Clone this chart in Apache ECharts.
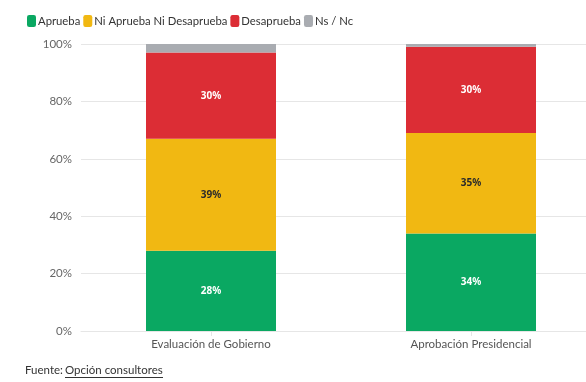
<!DOCTYPE html>
<html><head><meta charset="utf-8">
<script src="https://cdn.jsdelivr.net/npm/echarts@6/dist/echarts.min.js"></script>
<style>html,body{margin:0;padding:0;background:#fff}#c{width:586px;height:382px}</style>
</head><body><div id="c"></div>
<script>
const categories = ["Evaluación de Gobierno", "Aprobación Presidencial"];
const seriesNames = ["Aprueba", "Ni Aprueba Ni Desaprueba", "Desaprueba", "Ns / Nc"];
const aprueba = [28, 34];
const niAprueba = [39, 35];
const desaprueba = [30, 30];
const nsnc = [3, 1];
const yTicks = [0, 20, 40, 60, 80, 100];
const source = "Opción consultores";

const colors = ["#0aa862", "#f1b812", "#dc2d35", "#a9acb1"];
const labelColors = ["#ffffff", "#2b2b2b", "#ffffff", null];
const values = [aprueba, niAprueba, desaprueba, nsnc];
const FONT = "Lato";

const chart = echarts.init(document.getElementById('c'), null, {renderer: 'canvas'});
chart.setOption({
  animation: false,
  textStyle: {fontFamily: FONT},
  color: colors,
  legend: {
    left: 22, top: 10, itemWidth: 9, itemHeight: 12, itemGap: 3,
    icon: 'roundRect',
    textStyle: {fontFamily: FONT, fontSize: 11.3, color: '#333', padding: [0, 0, 0, -3]},
    data: seriesNames
  },
  grid: {left: 81, top: 44, width: 520, height: 287, outerBoundsMode: 'none', containLabel: false},
  xAxis: {
    type: 'category', data: categories,
    axisLine: {lineStyle: {color: '#e6e6e6'}},
    axisTick: {show: true, alignWithLabel: true, length: 5, lineStyle: {color: '#e6e6e6'}},
    axisLabel: {fontFamily: FONT, fontSize: 11.5, color: '#555', margin: 7}
  },
  yAxis: {
    type: 'value', min: yTicks[0], max: yTicks[yTicks.length - 1], interval: 20,
    axisLine: {show: false}, axisTick: {show: false},
    splitLine: {lineStyle: {color: '#e6e6e6'}},
    axisLabel: {fontFamily: FONT, fontSize: 11.5, color: '#666', margin: 9, formatter: '{value}%'}
  },
  series: seriesNames.map((n, i) => ({
    name: n, type: 'bar', stack: 'total', barWidth: '50%',
    data: values[i],
    itemStyle: {color: colors[i]},
    label: labelColors[i] ? {
      show: true, position: 'inside', formatter: '{c}%',
      fontFamily: "Noto Sans", fontSize: 10, fontWeight: 'bold', color: labelColors[i]
    } : {show: false}
  })),
  graphic: [
    {type: 'text', left: 25, top: 364, style: {text: 'Fuente:', fontFamily: FONT, fontSize: 11.5, fill: '#333'}},
    {type: 'text', left: 65, top: 364, style: {text: source, fontFamily: FONT, fontSize: 11.5, fill: '#333'}},
    {type: 'rect', left: 65, top: 377, shape: {width: 98, height: 1}, style: {fill: '#333'}}
  ]
});
</script></body></html>
